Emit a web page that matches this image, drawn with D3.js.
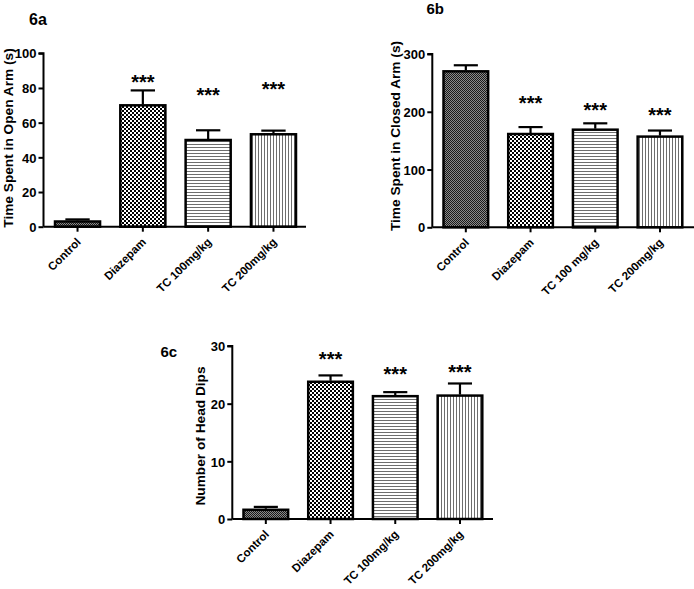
<!DOCTYPE html>
<html>
<head>
<meta charset="utf-8">
<script src="https://cdn.jsdelivr.net/npm/d3@7"></script>
<style>
  html, body { margin: 0; padding: 0; background: #fff; }
  svg { display: block; }
  text { font-family: "Liberation Sans", Arial, sans-serif; font-weight: bold; fill: #000; }
</style>
</head>
<body>
<svg id="chart" width="694" height="589"></svg>
<script>
// ---- Data ----
const patterns = ["fine", "checker", "hlines", "vlines"];

const catsA = ["Control", "Diazepam", "TC 100mg/kg", "TC 200mg/kg"];
const meanA = [3, 70, 50, 53.3];
const errA  = [4.2, 78.6, 55.6, 55.4];
const starA = [null, 86, 78.3, 82];
const ticksA = [0, 20, 40, 60, 80, 100];

const catsB = ["Control", "Diazepam", "TC 100 mg/kg", "TC 200mg/kg"];
const meanB = [270, 161.5, 169, 157];
const errB  = [280.5, 173.5, 180, 167.5];
const starB = [null, 223, 211, 203];
const ticksB = [0, 100, 200, 300];

const catsC = ["Control", "Diazepam", "TC 100mg/kg", "TC 200mg/kg"];
const meanC = [1.6, 23.8, 21.3, 21.4];
const errC  = [2.1, 24.9, 22.0, 23.5];
const starC = [null, 28.6, 26.0, 26.2];
const ticksC = [0, 10, 20, 30];

const svg = d3.select("#chart");
svg.append("rect").attr("width", 694).attr("height", 589).attr("fill", "#fff");

// ---- Patterns ----
const defs = svg.append("defs");
let p = defs.append("pattern").attr("id", "fine").attr("patternUnits", "userSpaceOnUse")
  .attr("width", 2).attr("height", 2);
p.append("rect").attr("width", 2).attr("height", 2).attr("fill", "#8a8a8a");
p.append("rect").attr("width", 1).attr("height", 1).attr("fill", "#1a1a1a");
p.append("rect").attr("x", 1).attr("y", 1).attr("width", 1).attr("height", 1).attr("fill", "#1a1a1a");
p = defs.append("pattern").attr("id", "checker").attr("patternUnits", "userSpaceOnUse")
  .attr("width", 4).attr("height", 4);
p.append("rect").attr("width", 4).attr("height", 4).attr("fill", "#fff");
p.append("rect").attr("width", 2).attr("height", 2).attr("fill", "#000");
p.append("rect").attr("x", 2).attr("y", 2).attr("width", 2).attr("height", 2).attr("fill", "#000");
p = defs.append("pattern").attr("id", "hlines").attr("patternUnits", "userSpaceOnUse")
  .attr("width", 3).attr("height", 3);
p.append("rect").attr("width", 3).attr("height", 3).attr("fill", "#fff");
p.append("rect").attr("width", 3).attr("height", 1).attr("fill", "#6e6e6e");
p = defs.append("pattern").attr("id", "vlines").attr("patternUnits", "userSpaceOnUse")
  .attr("width", 3).attr("height", 3);
p.append("rect").attr("width", 3).attr("height", 3).attr("fill", "#fff");
p.append("rect").attr("width", 1).attr("height", 3).attr("fill", "#6e6e6e");

function panel(cfg) {
  const g = svg.append("g");
  const x = d3.scaleBand().domain(cfg.cats).range([cfg.bx0, cfg.bx1])
    .paddingInner(0.31).paddingOuter(0);
  const y = d3.scaleLinear().domain([0, cfg.ticks[cfg.ticks.length - 1]]).range([cfg.y0, cfg.y1]);
  const bw = x.bandwidth();

  g.selectAll(".bar").data(cfg.cats).enter().append("rect")
    .attr("x", d => x(d))
    .attr("y", (d, i) => y(cfg.mean[i]))
    .attr("width", bw)
    .attr("height", (d, i) => y(0) - y(cfg.mean[i]))
    .attr("fill", (d, i) => "url(#" + patterns[i] + ")")
    .attr("stroke", "#000").attr("stroke-width", 2.5);

  cfg.cats.forEach((c, i) => {
    const cx = x(c) + bw / 2;
    g.append("line").attr("x1", cx).attr("x2", cx)
      .attr("y1", y(cfg.mean[i]) - 1).attr("y2", y(cfg.err[i]))
      .attr("stroke", "#000").attr("stroke-width", 2.2);
    g.append("line").attr("x1", cx - bw * 0.27).attr("x2", cx + bw * 0.27)
      .attr("y1", y(cfg.err[i])).attr("y2", y(cfg.err[i]))
      .attr("stroke", "#000").attr("stroke-width", 2.2);
    if (cfg.star[i] != null) {
      g.append("text").attr("x", cx).attr("y", y(cfg.star[i]) + 11.5)
        .attr("text-anchor", "middle").style("font-size", "20px").text("***");
    }
  });

  const ya = d3.axisLeft(y).tickValues(cfg.ticks).tickSize(5).tickPadding(2).tickFormat(d3.format("d"));
  const yg = g.append("g").attr("transform", `translate(${cfg.ax},0)`).call(ya);
  yg.attr("font-size", null).attr("font-family", null);
  yg.select(".domain").attr("d", `M-5,${y(cfg.ticks[cfg.ticks.length-1])}H0V${y(0)}`)
    .attr("stroke-width", 2);
  yg.selectAll(".tick line").attr("stroke-width", 2);
  yg.selectAll(".tick text").style("font-size", "13px").attr("dy", "0.36em");

  const xa = d3.axisBottom(x).tickSize(5).tickSizeOuter(0);
  const xg = g.append("g").attr("transform", `translate(0,${y(0)})`).call(xa);
  xg.attr("font-size", null).attr("font-family", null);
  xg.select(".domain").attr("d", `M${cfg.ax},0H${cfg.axEnd}`).attr("stroke-width", 2);
  xg.selectAll(".tick line").attr("stroke-width", 2);
  xg.selectAll(".tick text")
    .style("font-size", "11.5px")
    .attr("text-anchor", "end")
    .attr("y", 0).attr("dy", "0")
    .attr("transform", "translate(4,16) rotate(-45)");

  g.append("text").attr("transform", `translate(${cfg.tx},${cfg.ty}) rotate(-90)`)
    .attr("text-anchor", "middle").style("font-size", "13.7px").text(cfg.ytitle);
  g.append("text").attr("x", cfg.lx).attr("y", cfg.ly).style("font-size", cfg.lsize + "px").text(cfg.label);
}

panel({cats: catsA, mean: meanA, err: errA, star: starA, ticks: ticksA,
  bx0: 55, bx1: 296, y0: 226.7, y1: 53.3, ax: 43.5, axEnd: 306,
  ytitle: "Time Spent in Open Arm (s)", tx: 13, ty: 138,
  label: "6a", lx: 29, ly: 24.5, lsize: 16});

panel({cats: catsB, mean: meanB, err: errB, star: starB, ticks: ticksB,
  bx0: 443.5, bx1: 682.3, y0: 227.3, y1: 54, ax: 432.3, axEnd: 694,
  ytitle: "Time Spent in Closed Arm (s)", tx: 400, ty: 136,
  label: "6b", lx: 426.5, ly: 14.3, lsize: 15});

panel({cats: catsC, mean: meanC, err: errC, star: starC, ticks: ticksC,
  bx0: 243.5, bx1: 482.3, y0: 519, y1: 346, ax: 232.3, axEnd: 493,
  ytitle: "Number of Head Dips", tx: 205, ty: 436,
  label: "6c", lx: 160.5, ly: 357, lsize: 15});
</script>
</body>
</html>
